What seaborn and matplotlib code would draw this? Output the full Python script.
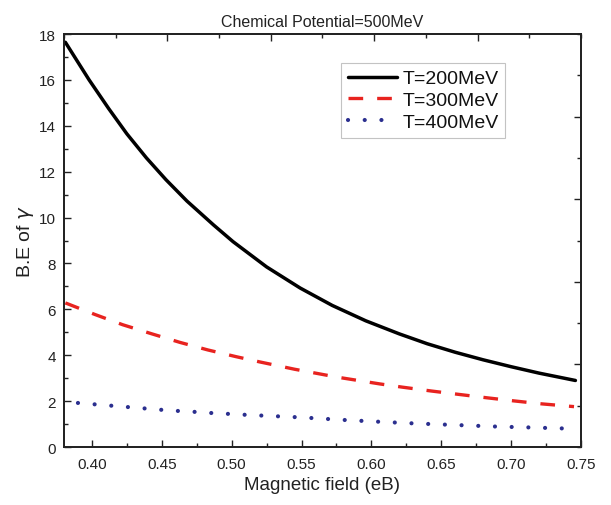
import matplotlib
matplotlib.use("Agg")
import matplotlib.pyplot as plt
import seaborn as sns
import pandas as pd
from matplotlib.ticker import MultipleLocator

# ---- data ----
labels = ["T=200MeV", "T=300MeV", "T=400MeV"]

b_200 = [0.381, 0.398, 0.412, 0.425, 0.439, 0.453, 0.468, 0.487, 0.501, 0.525,
         0.549, 0.572, 0.596, 0.620, 0.640, 0.660, 0.680, 0.700, 0.720, 0.746]
be_200 = [17.64, 16.00, 14.75, 13.65, 12.60, 11.65, 10.72, 9.68, 8.95, 7.85,
          6.93, 6.17, 5.50, 4.93, 4.50, 4.13, 3.80, 3.50, 3.22, 2.90]

b_300 = [0.381, 0.402, 0.422, 0.443, 0.463, 0.483, 0.503, 0.520, 0.545, 0.575,
         0.606, 0.622, 0.643, 0.663, 0.682, 0.702, 0.722, 0.745]
be_300 = [6.28, 5.78, 5.33, 4.93, 4.56, 4.23, 3.94, 3.71, 3.39, 3.05,
          2.75, 2.61, 2.44, 2.29, 2.15, 2.01, 1.88, 1.76]

b_400 = [0.390, 0.402, 0.414, 0.426, 0.438, 0.450, 0.462, 0.474, 0.486, 0.499,
         0.511, 0.550, 0.580, 0.606, 0.630, 0.660, 0.690, 0.715, 0.737]
be_400 = [1.92, 1.86, 1.80, 1.74, 1.68, 1.62, 1.57, 1.53, 1.48, 1.44,
          1.40, 1.29, 1.18, 1.10, 1.03, 0.96, 0.89, 0.85, 0.81]

x_ticks = [0.40, 0.45, 0.50, 0.55, 0.60, 0.65, 0.70, 0.75]
y_ticks = [0, 2, 4, 6, 8, 10, 12, 14, 16, 18]

# ---- style ----
sns.set_style("ticks")
plt.rcParams["font.family"] = ["Liberation Sans", "DejaVu Sans"]
plt.rcParams["mathtext.fontset"] = "dejavusans"

fig = plt.figure(figsize=(6.11, 5.06), dpi=100)
ax = fig.add_axes([0.1047, 0.1146, 0.8462, 0.8162])

series = [
    (b_200, be_200, labels[0], "black", 2.5, "-", "butt"),
    (b_300, be_300, labels[1], "#e8231f", 2.4, (0, (4.4, 4.2)), "butt"),
    (b_400, be_400, labels[2], "#2b2f8f", 3.0, (0, (0.01, 4.0)), "round"),
]
for bx, by, lab, col, lw, ls, cap in series:
    df = pd.DataFrame({"B": bx, "BE": by})
    sns.lineplot(data=df, x="B", y="BE", ax=ax, color=col, lw=lw,
                 linestyle=ls, label=lab, dash_capstyle=cap)

ax.set_xlim(0.38, 0.75)
ax.set_ylim(0, 18)
ax.set_xticks(x_ticks)
ax.set_xticklabels([f"{v:.2f}" for v in x_ticks])
ax.set_yticks(y_ticks)
ax.xaxis.set_minor_locator(MultipleLocator(0.025))
ax.yaxis.set_minor_locator(MultipleLocator(1))
ax.tick_params(which="both", direction="in", width=1.0, colors="#222222",
               labelcolor="#222222", labelsize=11)
ax.tick_params(which="major", length=5)
ax.tick_params(which="minor", length=3)
ax.tick_params(axis="x", pad=7)
ax.tick_params(axis="y", pad=6)

for sp in ax.spines.values():
    sp.set_visible(True)
    sp.set_linewidth(1.1)
    sp.set_color("#222222")

# top and right axes with their own (10-division) ticks
axt = ax.twiny()
axt.set_xlim(0, 10)
axt.set_xticks([2, 4, 6, 8])
axt.xaxis.set_minor_locator(MultipleLocator(1))
axt.tick_params(which="both", direction="in", width=1.0, colors="#222222",
                labeltop=False, labelbottom=False, top=True, bottom=False)
axt.tick_params(which="major", length=5)
axt.tick_params(which="minor", length=3)
axt.grid(False)

axr = ax.twinx()
axr.set_ylim(0, 10)
axr.set_yticks([2, 4, 6, 8])
axr.yaxis.set_minor_locator(MultipleLocator(1))
axr.tick_params(which="both", direction="in", width=1.0, colors="#222222",
                labelright=False, labelleft=False, right=True, left=False)
axr.tick_params(which="major", length=5)
axr.tick_params(which="minor", length=3)
axr.grid(False)
for a in (axt, axr):
    for sp in a.spines.values():
        sp.set_linewidth(1.1)
        sp.set_color("#222222")

ax.set_xlabel("Magnetic field (eB)", fontsize=13.5, color="#222222", labelpad=4)
ax.set_ylabel("B.E of $\\gamma$", fontsize=14, color="#222222", labelpad=2)
ax.set_title("Chemical Potential=500MeV", fontsize=11.5, color="#222222", pad=6)

leg = ax.legend(loc="upper left", bbox_to_anchor=(0.536, 0.93), frameon=True,
                fancybox=False, edgecolor="#b5b5b5", fontsize=14,
                handlelength=2.5, handletextpad=0.3, labelspacing=0.22,
                borderpad=0.35, borderaxespad=0.0)
leg.get_frame().set_linewidth(0.8)
for t in leg.get_texts():
    t.set_color("#111111")

fig.savefig("out.png", dpi=100)
